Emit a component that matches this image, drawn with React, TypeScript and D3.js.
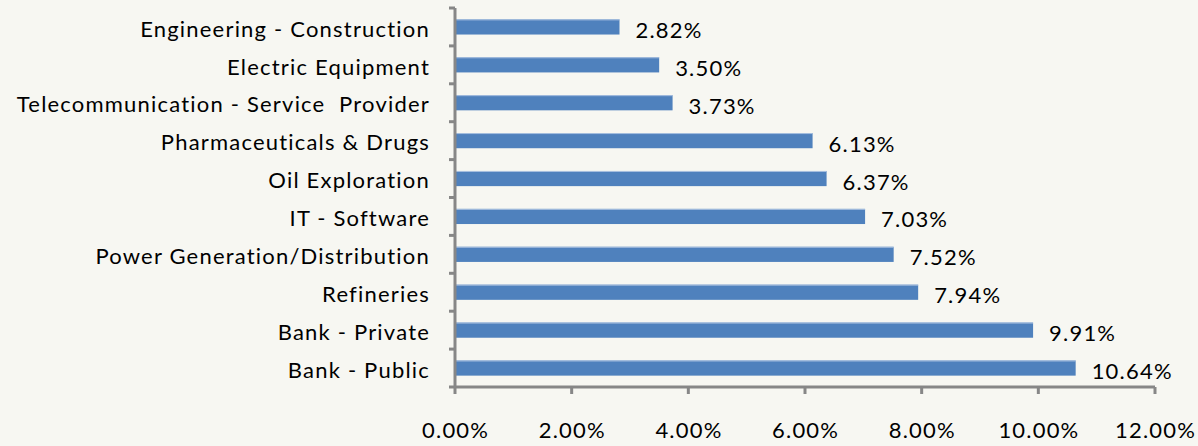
import React from "react";
import * as d3 from "d3";

const categories = [
  "Engineering - Construction",
  "Electric Equipment",
  "Telecommunication - Service  Provider",
  "Pharmaceuticals & Drugs",
  "Oil Exploration",
  "IT - Software",
  "Power Generation/Distribution",
  "Refineries",
  "Bank - Private",
  "Bank - Public",
];
const values = [2.82, 3.5, 3.73, 6.13, 6.37, 7.03, 7.52, 7.94, 9.91, 10.64];
const xTicks = [0, 2, 4, 6, 8, 10, 12];

const W = 1198;
const H = 446;
const left = 455;
const right = 1155;
const top = 8;
const bottom = 387;
const FONT = "Lato, 'Open Sans', sans-serif";
const FS = 22;
const LS = 1.2;

export default function App() {
  const x = d3.scaleLinear().domain([0, 12]).range([left, right]);
  const y = d3.scaleBand().domain(categories).range([top, bottom]).paddingInner(0.6).paddingOuter(0.3);
  const step = (bottom - top) / categories.length;
  const axisColor = "#878787";
  return (
    <svg width={W} height={H} style={{ position: "absolute", left: 0, top: 0, background: "#f7f7f2" }}>
      <rect x={0} y={0} width={W} height={H} fill="#f7f7f2" />
      {categories.map((c, i) => {
        const v = values[i];
        const yy = y(c)!;
        const cy = yy + y.bandwidth() / 2;
        return (
          <g key={c}>
            <rect x={x(0)} y={yy} width={x(v) - x(0)} height={y.bandwidth()} fill="#4f81bd" />
            <line x1={x(0)} x2={x(v)} y1={yy + 0.5} y2={yy + 0.5} stroke="#a9c0e0" strokeWidth={1} />
            <text x={x(v) + 16} y={cy + 11} fontFamily={FONT} fontSize={FS} letterSpacing={LS} fill="#000">
              {v.toFixed(2) + "%"}
            </text>
            <text x={430} y={cy + 9.7} textAnchor="end" fontFamily={FONT} fontSize={FS} letterSpacing={LS} fill="#000" style={{ whiteSpace: "pre" }}>
              {c}
            </text>
          </g>
        );
      })}
      {/* y axis */}
      <line x1={left} x2={left} y1={top} y2={bottom} stroke={axisColor} strokeWidth={3} />
      {d3.range(categories.length + 1).map((i) => (
        <line key={"yt" + i} x1={left - 6} x2={left} y1={top + i * step} y2={top + i * step} stroke={axisColor} strokeWidth={3} />
      ))}
      {/* x axis */}
      <line x1={left} x2={right} y1={bottom} y2={bottom} stroke={axisColor} strokeWidth={3} />
      {xTicks.map((t) => (
        <g key={"xt" + t}>
          <line x1={x(t)} x2={x(t)} y1={bottom} y2={bottom + 7} stroke={axisColor} strokeWidth={3} />
          <text x={x(t) + LS / 2} y={438} textAnchor="middle" fontFamily={FONT} fontSize={FS} letterSpacing={LS} fill="#000">
            {t.toFixed(2) + "%"}
          </text>
        </g>
      ))}
    </svg>
  );
}
